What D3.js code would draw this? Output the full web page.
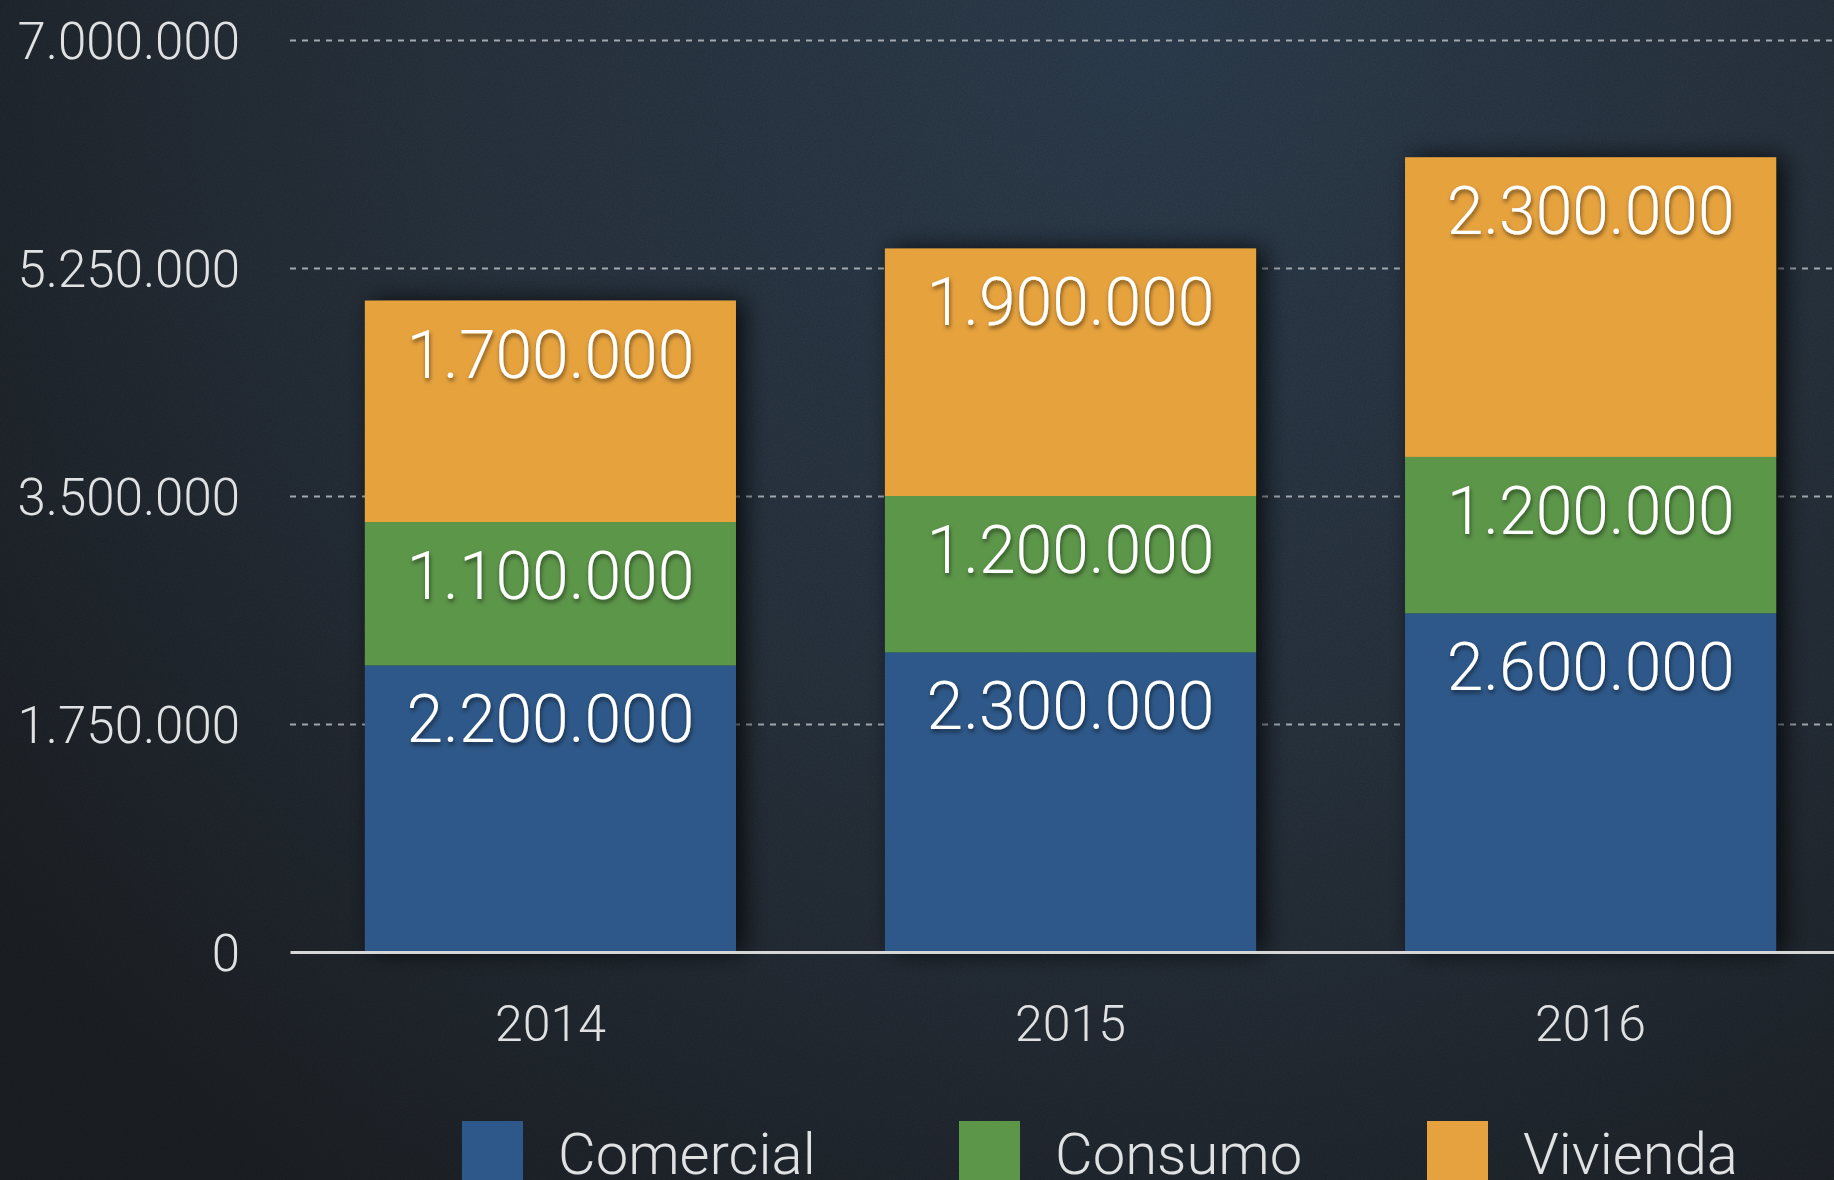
<!DOCTYPE html>
<html>
<head>
<meta charset="utf-8">
<script src="https://cdn.jsdelivr.net/npm/d3@7"></script>
<style>
  html, body { margin: 0; padding: 0; background: #26303b; overflow: hidden; }
  svg { display: block; }
  text { font-family: Roboto, "DejaVu Sans Condensed", sans-serif; font-weight: 300; }
</style>
</head>
<body>
<svg id="chart" width="1834" height="1180"></svg>
<script>
// data
var years = ["2014", "2015", "2016"];
var seriesNames = ["Comercial", "Consumo", "Vivienda"];
var comercial = [2200000, 2300000, 2600000];
var consumo = [1100000, 1200000, 1200000];
var vivienda = [1700000, 1900000, 2300000];
var yTicks = [0, 1750000, 3500000, 5250000, 7000000];
var seriesColors = ["#2e5889", "#5c9648", "#e6a23e"];

var svg = d3.select("#chart"),
    width = +svg.attr("width"),
    height = +svg.attr("height");

var margin = {top: 40, left: 290, bottom: 228};

var rows = years.map(function(y, i) {
  return {year: y, Comercial: comercial[i], Consumo: consumo[i], Vivienda: vivienda[i]};
});

var fmt = d3.formatLocale({decimal: ",", thousands: ".", grouping: [3], currency: ["", "€"]}).format(",d");

var defs = svg.append("defs");

// background: slate blue, lighter at the top, darker towards the bottom left
var bg = defs.append("radialGradient").attr("id", "bg")
  .attr("gradientUnits", "userSpaceOnUse")
  .attr("cx", 1150).attr("cy", 40).attr("r", 1450);
bg.append("stop").attr("offset", "0%").attr("stop-color", "#2f4052");
bg.append("stop").attr("offset", "50%").attr("stop-color", "#2a3541");
bg.append("stop").attr("offset", "100%").attr("stop-color", "#1d2126");

var noise = defs.append("filter").attr("id", "noise").attr("x", 0).attr("y", 0).attr("width", "100%").attr("height", "100%");
noise.append("feTurbulence").attr("type", "fractalNoise").attr("baseFrequency", 0.8).attr("numOctaves", 3).attr("seed", 4);
noise.append("feColorMatrix").attr("type", "matrix")
  .attr("values", "0 0 0 0 0  0 0 0 0 0  0 0 0 0 0  0 0 0 0.22 0");

var barShadow = defs.append("filter").attr("id", "barShadow")
  .attr("x", "-20%").attr("y", "-20%").attr("width", "140%").attr("height", "140%");
barShadow.append("feDropShadow").attr("dx", 8).attr("dy", 0).attr("stdDeviation", 12)
  .attr("flood-color", "#000").attr("flood-opacity", 0.75);

var textShadow = defs.append("filter").attr("id", "textShadow")
  .attr("x", "-10%").attr("y", "-20%").attr("width", "120%").attr("height", "150%");
textShadow.append("feDropShadow").attr("dx", 1).attr("dy", 3).attr("stdDeviation", 2)
  .attr("flood-color", "#000").attr("flood-opacity", 0.5);

svg.append("rect").attr("width", width).attr("height", height).attr("fill", "url(#bg)");
svg.append("rect").attr("width", width).attr("height", height).attr("filter", "url(#noise)");

var plotBottom = height - margin.bottom;

var x = d3.scaleBand()
  .domain(years)
  .range([margin.left, 1851])
  .paddingInner(0.2865)
  .paddingOuter(0.144);

var y = d3.scaleLinear()
  .domain([0, 7000000])
  .range([plotBottom, margin.top]);

// grid + y labels
var yAxis = svg.append("g")
  .attr("class", "y axis")
  .attr("transform", "translate(" + margin.left + ",0)")
  .call(d3.axisLeft(y).tickValues(yTicks).tickFormat(fmt)
    .tickSizeInner(-(width - margin.left)).tickSizeOuter(0).tickPadding(50));
yAxis.select(".domain").remove();
yAxis.selectAll(".tick line")
  .attr("stroke", "#b9bdc2")
  .attr("stroke-width", 2)
  .attr("stroke-dasharray", "6,6")
  .attr("opacity", function(d) { return d === 0 ? 0 : 0.85; });
yAxis.selectAll(".tick text")
  .attr("fill", "#dfe1e3")
  .attr("font-size", 51)
  .attr("dy", "0.36em");

// stacked bars
var stack = d3.stack().keys(seriesNames);
var layers = stack(rows);

var barsG = svg.append("g").attr("filter", "url(#barShadow)");
barsG.selectAll("g")
  .data(layers)
  .enter().append("g")
    .attr("fill", function(d, i) { return seriesColors[i]; })
  .selectAll("rect")
  .data(function(d) { return d; })
  .enter().append("rect")
    .attr("x", function(d) { return x(d.data.year); })
    .attr("y", function(d) { return y(d[1]); })
    .attr("width", x.bandwidth())
    .attr("height", function(d) { return y(d[0]) - y(d[1]); });

// value labels near the top of each segment
var labelsG = svg.append("g").attr("filter", "url(#textShadow)");
layers.forEach(function(layer) {
  labelsG.selectAll(null)
    .data(layer)
    .enter().append("text")
      .attr("x", function(d) { return x(d.data.year) + x.bandwidth() / 2; })
      .attr("y", function(d) { return y(d[1]) + 77; })
      .attr("text-anchor", "middle")
      .attr("fill", "#ffffff")
      .attr("font-size", 66)
      .text(function(d) { return fmt(d[1] - d[0]); });
});

// x axis (baseline + years)
var xAxis = svg.append("g")
  .attr("class", "x axis")
  .attr("transform", "translate(0," + plotBottom + ")")
  .call(d3.axisBottom(x).tickSize(0).tickPadding(53));
xAxis.select(".domain").attr("stroke", "#d4d6d8").attr("stroke-width", 3);
xAxis.selectAll(".tick text")
  .attr("fill", "#dfe1e3")
  .attr("font-size", 50);

// legend, cut by the bottom edge as in the original
var legendX = [462, 959, 1427];
var legend = svg.append("g").attr("class", "legend");
var items = legend.selectAll("g")
  .data(seriesNames)
  .enter().append("g")
    .attr("transform", function(d, i) { return "translate(" + legendX[i] + ",1121)"; });
items.append("rect")
  .attr("width", 61).attr("height", 61)
  .attr("fill", function(d, i) { return seriesColors[i]; });
items.append("text")
  .attr("x", 96)
  .attr("y", 53)
  .attr("fill", "#dfe1e3")
  .attr("font-size", 58)
  .text(function(d) { return d; });
</script>
</body>
</html>
